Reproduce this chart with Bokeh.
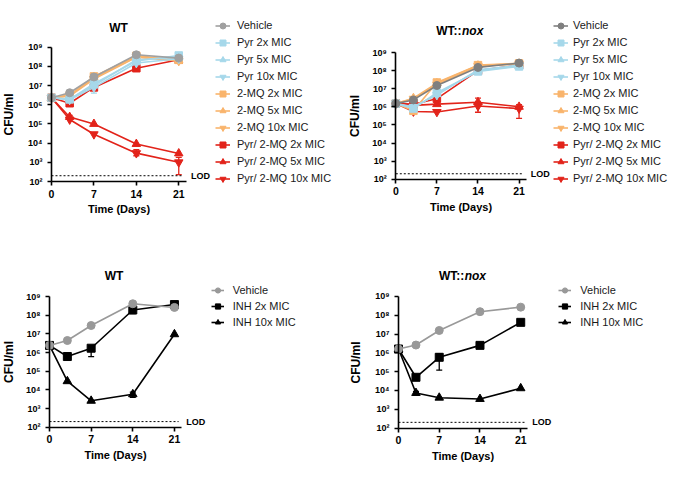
from bokeh.plotting import figure
from bokeh.layouts import column, row
from bokeh.models import (Range1d, FixedTicker, Legend, LegendItem, Label,
                          Whisker, TeeHead, ColumnDataSource)
from bokeh.embed import file_html
from bokeh.resources import INLINE

# ---------------- data ----------------
days = [0, 3, 7, 14, 21]
day_ticks = [0, 7, 14, 21]
cfu_ticks = [1e2, 1e3, 1e4, 1e5, 1e6, 1e7, 1e8, 1e9]
cfu_tick_labels = ["10²", "10³", "10⁴", "10⁵", "10⁶", "10⁷", "10⁸", "10⁹"]
lod = 200

# WT, Pyr / 2-MQ
wt_vehicle = [2.3e6, 4.2e6, 2.8e7, 4.0e8, 2.7e8]
wt_pyr_2x = [2.3e6, 1.9e6, 1.25e7, 1.9e8, 3.7e8]
wt_pyr_5x = [2.3e6, 2.0e6, 1.0e7, 2.2e8, 2.9e8]
wt_pyr_10x = [2.3e6, 1.8e6, 8.0e6, 1.5e8, 2.5e8]
wt_mq_2x = [2.3e6, 3.0e6, 3.0e7, 3.5e8, 2.2e8]
wt_mq_5x = [2.3e6, 3.2e6, 2.5e7, 3.2e8, 2.0e8]
wt_mq_10x = [2.3e6, 2.8e6, 2.2e7, 3.0e8, 1.9e8]
wt_combo_2x = [2.3e6, 1.2e6, 8.0e6, 8.0e7, 2.2e8]
wt_combo_5x = [2.3e6, 2.3e5, 1.0e5, 9.0e3, 2.9e3]
wt_combo_10x = [2.3e6, 1.7e5, 2.9e4, 3.0e3, 1.0e3]
# error bars: (day, low, high)
wt_pyr_10x_err = [(7, 4.0e6, 1.5e7)]
wt_combo_2x_err = [(3, 1.0e6, 1.5e6), (14, 6.0e7, 1.1e8)]
wt_combo_5x_err = [(3, 1.8e5, 2.8e5)]
wt_combo_10x_err = [(14, 2.2e3, 4.5e3), (21, 2.3e2, 1.8e3)]

# WT::nox, Pyr / 2-MQ
nox_vehicle = [1.5e6, 2.4e6, 1.5e7, 1.5e8, 2.6e8]
nox_pyr_2x = [1.5e6, 8.0e5, 6.0e6, 9.0e7, 1.7e8]
nox_pyr_5x = [1.5e6, 9.0e5, 5.0e6, 1.0e8, 1.8e8]
nox_pyr_10x = [1.5e6, 1.0e6, 4.5e6, 1.1e8, 2.0e8]
nox_mq_2x = [1.5e6, 6.0e5, 2.2e7, 2.0e8, 2.5e8]
nox_mq_5x = [1.5e6, 3.0e6, 2.0e7, 1.9e8, 2.4e8]
nox_mq_10x = [1.5e6, 2.8e6, 1.7e7, 1.8e8, 2.3e8]
nox_combo_2x = [1.5e6, 1.4e6, 2.8e6, 1.0e8, 2.0e8]
nox_combo_5x = [1.5e6, 1.2e6, 1.4e6, 1.8e6, 1.0e6]
nox_combo_10x = [1.5e6, 5.5e5, 5.2e5, 1.1e6, 8.0e5]
nox_mq_2x_err = [(7, 1.6e7, 2.8e7)]
nox_combo_2x_err = [(7, 2.0e6, 4.0e6)]
nox_combo_5x_err = [(14, 5.0e5, 3.0e6), (21, 2.3e5, 1.3e6)]

# INH
inh_wt_vehicle = [2.4e6, 4.4e6, 2.8e7, 4.1e8, 2.6e8]
inh_wt_2x = [2.4e6, 6.1e5, 1.7e6, 1.9e8, 3.7e8]
inh_wt_10x = [2.4e6, 2.9e4, 2.6e3, 5.8e3, 9.5e6]
inh_wt_2x_err = [(3, 4.5e5, 7.0e5), (7, 6.0e5, 2.0e6), (14, 1.2e8, 2.5e8)]
inh_wt_10x_err = [(14, 4.0e3, 7.5e3)]

inh_nox_vehicle = [1.6e6, 2.6e6, 1.55e7, 1.55e8, 2.7e8]
inh_nox_2x = [1.6e6, 5.0e4, 5.8e5, 2.5e6, 4.2e7]
inh_nox_10x = [1.6e6, 7.3e3, 4.1e3, 3.5e3, 1.3e4]
inh_nox_2x_err = [(7, 1.2e5, 9.0e5)]
inh_nox_10x_err = [(3, 5.5e3, 9.0e3)]

# ---------------- style ----------------
FONT = "Liberation Sans"
C_PYR = "#a6d8ea"
C_MQ = "#f9b46c"
C_COMBO = "#e2231a"


def make_panel(series, title_main, title_ital, geo, title_pos, ylab_standoff,
               leg_pos, leg_pitch, glyph_w, standoff):
    # geo: page origin, figure size, page pixel of x=0 / y=1e2, scale
    ox, oy, w, h, x0_page, y2_page, px_day, px_dec = geo
    x_start = -(x0_page - ox) / px_day
    x_end = x_start + w / px_day
    y2_c = y2_page - oy
    y_start = 10 ** (2 - (h - y2_c) / px_dec)
    y_end = 10 ** (2 + y2_c / px_dec)

    def sx(px):
        return px - ox

    def sy(py):
        return h - (py - oy)

    p = figure(width=w, height=h,
               x_range=Range1d(x_start, x_end), y_range=Range1d(y_start, y_end),
               y_axis_type="log", output_backend="svg", toolbar_location=None,
               min_border=0)
    p.title.visible = False
    p.outline_line_color = None
    p.grid.visible = False
    p.background_fill_color = "white"
    p.border_fill_color = "white"

    xa = p.xaxis[0]
    ya = p.yaxis[0]
    ya.fixed_location = 0
    xa.fixed_location = 1e2
    xa.bounds = (0, 22.2)
    ya.bounds = (1e2, 1e9)
    xa.ticker = FixedTicker(ticks=day_ticks)
    ya.ticker = FixedTicker(ticks=cfu_ticks)
    ya.major_label_overrides = dict(zip(cfu_ticks, cfu_tick_labels))
    for ax in (xa, ya):
        ax.axis_line_color = "black"
        ax.axis_line_width = 1.6
        ax.major_tick_line_color = "black"
        ax.major_tick_line_width = 1.6
        ax.major_tick_out = 4
        ax.major_tick_in = 0
        ax.minor_tick_line_color = None
        ax.major_label_text_font = FONT
        ax.major_label_text_font_style = "bold"
        ax.major_label_text_color = "black"
        ax.axis_label_text_font = FONT
        ax.axis_label_text_font_style = "bold"
        ax.axis_label_text_color = "black"
    xa.major_label_text_font_size = "10.5px"
    xa.major_label_standoff = 4
    ya.major_label_text_font_size = "9px"
    ya.major_label_standoff = 5
    xa.axis_label = "Time (Days)"
    xa.axis_label_text_font_size = "11px"
    xa.axis_label_standoff = 2
    ya.axis_label = "CFU/ml"
    ya.axis_label_text_font_size = "12px"
    ya.axis_label_standoff = ylab_standoff

    # LOD line
    p.line([0, 21.7], [lod, lod], line_color="black", line_width=1,
           line_dash="2 2")
    p.add_layout(Label(x=23.0, y=lod, text="LOD", text_font=FONT,
                       text_font_style="bold", text_font_size="9px",
                       text_align="left", text_baseline="middle",
                       text_color="black"))

    items = []
    rends = {}
    for label, vals, color, marker, size, errs in reversed(series):
        if errs:
            src = ColumnDataSource(dict(base=[e[0] for e in errs],
                                        lower=[e[1] for e in errs],
                                        upper=[e[2] for e in errs]))
            p.add_layout(Whisker(source=src, base="base", lower="lower",
                                 upper="upper", dimension="height",
                                 line_color=color, line_width=1.3,
                                 upper_head=TeeHead(size=6, line_color=color,
                                                    line_width=1.3),
                                 lower_head=TeeHead(size=6, line_color=color,
                                                    line_width=1.3)))
        lr = p.line(days, vals, line_color=color, line_width=1.6)
        sr = p.scatter(days, vals, marker=marker, size=size,
                       fill_color=color, line_color=color)
        rends[label] = [lr, sr]
    for s in series:
        items.append(LegendItem(label=s[0], renderers=rends[s[0]]))

    lx, ltop = leg_pos
    n = len(series)
    leg = Legend(items=items, location=(sx(lx), sy(ltop + n * leg_pitch)),
                 label_text_font=FONT, label_text_font_size="11px",
                 label_text_color="#1a1a1a",
                 glyph_width=glyph_w, glyph_height=leg_pitch,
                 label_height=leg_pitch, spacing=0, padding=0, margin=0,
                 label_standoff=standoff, border_line_color=None,
                 background_fill_alpha=0)
    p.add_layout(leg)

    # title
    tx, ty = title_pos
    if title_ital:
        p.add_layout(Label(x=sx(tx), y=sy(ty), x_units="screen",
                           y_units="screen", text=title_main, text_font=FONT,
                           text_font_style="bold", text_font_size="12px",
                           text_align="right", text_baseline="middle",
                           text_color="black"))
        p.add_layout(Label(x=sx(tx) + 0.5, y=sy(ty),
                           x_units="screen", y_units="screen",
                           text=title_ital, text_font=FONT,
                           text_font_style="bold italic",
                           text_font_size="12px", text_align="left",
                           text_baseline="middle", text_color="black"))
    else:
        p.add_layout(Label(x=sx(tx), y=sy(ty), x_units="screen",
                           y_units="screen", text=title_main, text_font=FONT,
                           text_font_style="bold", text_font_size="12px",
                           text_align="center", text_baseline="middle",
                           text_color="black"))
    return p


def pyr_series(vehicle, vcolor, p2, p5, p10, m2, m5, m10, c2, c5, c10, errs):
    return [
        ("Vehicle", vehicle, vcolor, "circle", 8, errs.get("veh")),
        ("Pyr 2x MIC", p2, C_PYR, "square", 7.5, errs.get("p2")),
        ("Pyr 5x MIC", p5, C_PYR, "triangle", 8.5, errs.get("p5")),
        ("Pyr 10x MIC", p10, C_PYR, "inverted_triangle", 8.5, errs.get("p10")),
        ("2-MQ 2x MIC", m2, C_MQ, "square", 7.5, errs.get("m2")),
        ("2-MQ 5x MIC", m5, C_MQ, "triangle", 8.5, errs.get("m5")),
        ("2-MQ 10x MIC", m10, C_MQ, "inverted_triangle", 8.5, errs.get("m10")),
        ("Pyr/ 2-MQ 2x MIC", c2, C_COMBO, "square", 7.5, errs.get("c2")),
        ("Pyr/ 2-MQ 5x MIC", c5, C_COMBO, "triangle", 8.5, errs.get("c5")),
        ("Pyr/ 2-MQ 10x MIC", c10, C_COMBO, "inverted_triangle", 8.5, errs.get("c10")),
    ]


s1 = pyr_series(wt_vehicle, "#a0a0a0", wt_pyr_2x, wt_pyr_5x, wt_pyr_10x,
                wt_mq_2x, wt_mq_5x, wt_mq_10x,
                wt_combo_2x, wt_combo_5x, wt_combo_10x,
                {"p10": wt_pyr_10x_err, "c2": wt_combo_2x_err,
                 "c5": wt_combo_5x_err, "c10": wt_combo_10x_err})
s2 = pyr_series(nox_vehicle, "#7f7f7f", nox_pyr_2x, nox_pyr_5x, nox_pyr_10x,
                nox_mq_2x, nox_mq_5x, nox_mq_10x,
                nox_combo_2x, nox_combo_5x, nox_combo_10x,
                {"m2": nox_mq_2x_err, "c2": nox_combo_2x_err,
                 "c5": nox_combo_5x_err})
s3 = [("Vehicle", inh_wt_vehicle, "#999999", "circle", 8, None),
      ("INH 2x MIC", inh_wt_2x, "black", "square", 8, inh_wt_2x_err),
      ("INH 10x MIC", inh_wt_10x, "black", "triangle", 8.5, inh_wt_10x_err)]
s4 = [("Vehicle", inh_nox_vehicle, "#999999", "circle", 8, None),
      ("INH 2x MIC", inh_nox_2x, "black", "square", 8, inh_nox_2x_err),
      ("INH 10x MIC", inh_nox_10x, "black", "triangle", 8.5, inh_nox_10x_err)]

p1 = make_panel(s1, "WT", None,
                (0, 0, 347, 240, 51, 181, 6.06, 19.19),
                (118, 27), 9, (215, 16.5), 17, 15, 7)
p2 = make_panel(s2, "WT::", "nox",
                (347, 0, 330, 240, 395.3, 178.7, 5.87, 18.1),
                (461, 30), 7, (553, 16.5), 17, 15, 5)
p3 = make_panel(s3, "WT", None,
                (0, 240, 347, 245, 49, 426.7, 5.95, 18.67),
                (113.5, 275), 7, (210.7, 282), 16, 13, 9)
p4 = make_panel(s4, "WT::", "nox",
                (347, 240, 330, 245, 398, 427.5, 5.82, 18.79),
                (463.7, 275), 9, (558.3, 282), 16, 13, 9)

layout = column(row(p1, p2), row(p3, p4))
open("out.html", "w").write(file_html(layout, INLINE))
